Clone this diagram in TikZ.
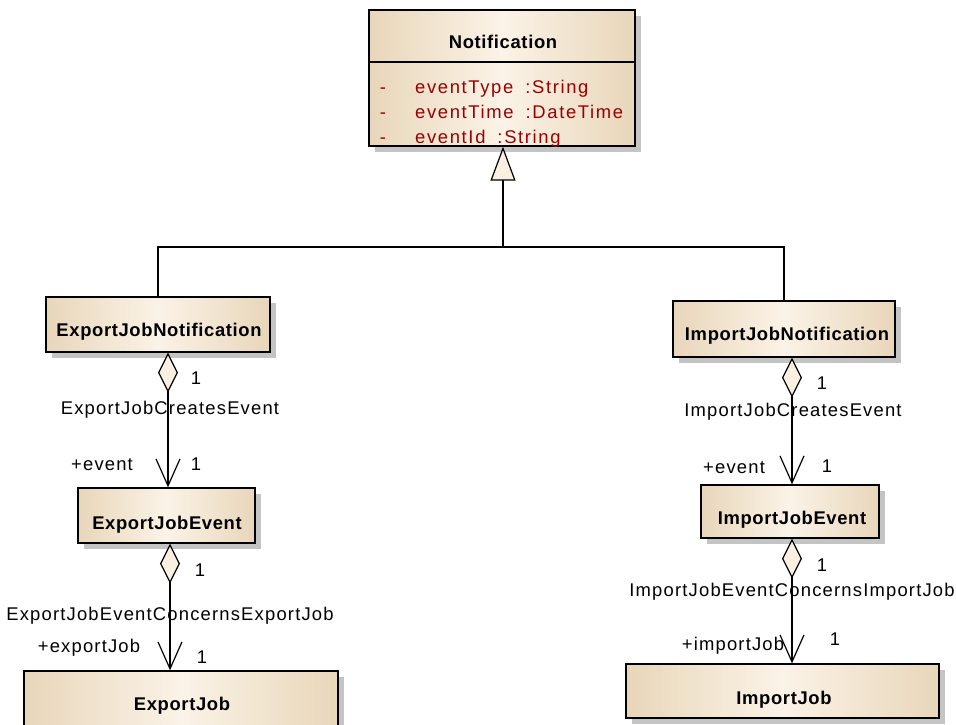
\documentclass[tikz,border=0pt]{standalone}
\usepackage{fontspec}
\newfontfamily\lblfont{Liberation Sans}[LetterSpace=6.5]
\newfontfamily\atrfont{Liberation Sans}[LetterSpace=9]
\newfontfamily\ttlfont{Liberation Sans}[LetterSpace=3.5]
\usetikzlibrary{arrows.meta,shadows}
\definecolor{boxedge}{RGB}{232,214,186}
\definecolor{boxmid}{RGB}{251,243,231}
\definecolor{attrred}{RGB}{153,0,0}
\definecolor{cream}{RGB}{250,240,225}
\definecolor{shadowc}{RGB}{196,196,196}
\tikzset{
  classbox/.style={draw=black, line width=1.3pt, rectangle, inner sep=0pt,
    left color=boxedge, right color=boxedge, middle color=boxmid,
    general shadow={fill=shadowc, shadow xshift=6pt, shadow yshift=-6pt}},
  lbl/.style={font=\lblfont\fontsize{18.4}{20}\selectfont, anchor=base, inner sep=0pt},
  ttl/.style={font=\ttlfont\bfseries\fontsize{18.4}{20}\selectfont, anchor=base, inner sep=0pt},
  attr/.style={font=\atrfont\fontsize{18.4}{20}\selectfont, text=attrred, anchor=base west, inner sep=0pt},
  conn/.style={line width=1.2pt, draw=black},
  gen/.style={conn, -{Triangle[length=34pt,width=25pt,fill=cream]}},
  assoc/.style={conn, {Diamond[length=40pt,width=20pt,fill=cream]}-{Straight Barb[length=27pt,width=24pt]}}
}
\begin{document}
\begin{tikzpicture}[x=1pt,y=-1pt]
\useasboundingbox (0,0) rectangle (956,724);
\clip (0,0) rectangle (956,724);
\fill[white] (0,0) rectangle (956,724);
% class boxes
\node[classbox, minimum width=266pt, minimum height=136pt] (notif) at (502,78) {};
\node[classbox, minimum width=224pt, minimum height=55pt] (ejn) at (158,324.5) {};
\node[classbox, minimum width=177pt, minimum height=55pt] (eje) at (166.5,515.5) {};
\node[classbox, minimum width=314pt, minimum height=64pt] (ej) at (181,703) {};
\node[classbox, minimum width=222pt, minimum height=56pt] (ijn) at (784,329) {};
\node[classbox, minimum width=178pt, minimum height=53pt] (ije) at (790,511.5) {};
\node[classbox, minimum width=313pt, minimum height=54pt] (ij) at (782.5,691) {};
\draw[line width=1.3pt] (notif.west |- 0,62) -- (notif.east |- 0,62);
% titles
\node[ttl] (tnotif) at (503,48) {Notification};
\node[ttl] (tejn) at (159,336) {ExportJobNotification};
\node[ttl] (teje) at (167,529) {ExportJobEvent};
\node[ttl] (tej) at (182,710) {ExportJob};
\node[ttl] (tijn) at (787,340) {ImportJobNotification};
\node[ttl] (tije) at (792,524) {ImportJobEvent};
\node[ttl] (tij) at (784,704) {ImportJob};
% attributes
\node[attr, anchor=base] (d1) at (383,93) {-};
\node[attr] (a1) at (415,93) {eventType\hspace{12pt}:String};
\node[attr, anchor=base] (d2) at (383,118) {-};
\node[attr] (a2) at (415,118) {eventTime\hspace{12pt}:DateTime};
\node[attr, anchor=base] (d3) at (383,143) {-};
\node[attr] (a3) at (415,143) {eventId\hspace{12pt}:String};
% generalization
\coordinate (bus) at (503,247);
\draw[conn] (ejn.north) |- (bus) -| (ijn.north);
\draw[gen] (bus) -- (bus |- notif.south);
% associations
\draw[assoc] ([xshift=10pt]ejn.south) -- ([xshift=1.5pt]eje.north);
\draw[assoc] ([xshift=3.5pt]eje.south) -- ([xshift=-11pt]ej.north);
\draw[assoc] ([xshift=8pt]ijn.south) -- ([xshift=2pt]ije.north);
\draw[assoc] ([xshift=2pt]ije.south) -- ([xshift=9.5pt]ij.north);
% association labels
\node[lbl] (m1) at (196,384) {1};
\node[lbl] (n1) at (170,414) {ExportJobCreatesEvent};
\node[lbl] (r1) at (102,470) {+event};
\node[lbl] (m2) at (196,470) {1};
\node[lbl] (m3) at (200,576) {1};
\node[lbl] (n2) at (170,620) {ExportJobEventConcernsExportJob};
\node[lbl] (r2) at (89,652) {+exportJob};
\node[lbl] (m4) at (202,663) {1};
\node[lbl] (m5) at (822,389) {1};
\node[lbl] (n3) at (793,416) {ImportJobCreatesEvent};
\node[lbl] (r3) at (734,473) {+event};
\node[lbl] (m6) at (827,472) {1};
\node[lbl] (m7) at (822,571) {1};
\node[lbl] (n4) at (792,596) {ImportJobEventConcernsImportJob};
\node[lbl] (r4) at (733,650) {+importJob};
\node[lbl] (m8) at (835,645) {1};
\end{tikzpicture}
\end{document}
